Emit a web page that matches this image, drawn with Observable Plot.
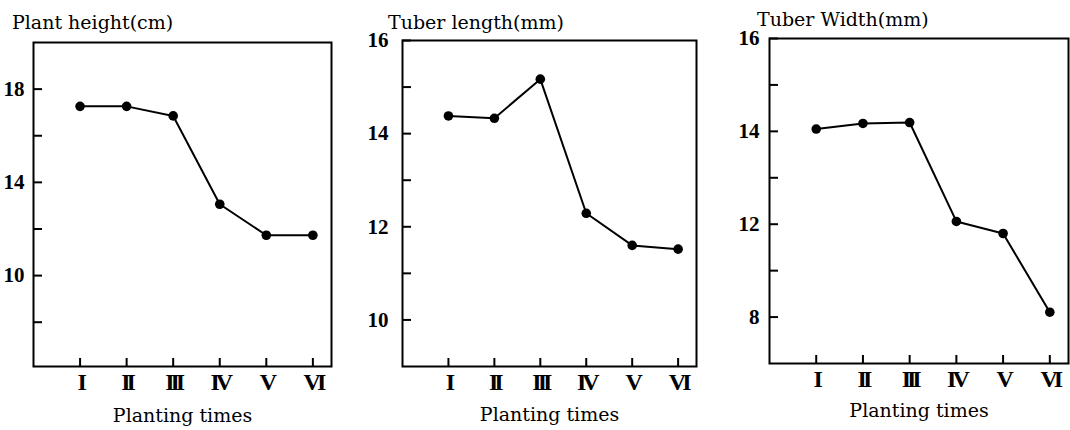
<!DOCTYPE html>
<html>
<head>
<meta charset="utf-8">
<script src="https://cdn.jsdelivr.net/npm/d3@7"></script>
<script src="https://cdn.jsdelivr.net/npm/@observablehq/plot@0.6"></script>
<style>
html, body { margin: 0; padding: 0; background: #fff; }
#wrap { position: relative; width: 1070px; height: 430px; overflow: hidden; background: #fff; }
.panel { position: absolute; top: 0; }
.title { position: absolute; font-family: "DejaVu Serif"; font-size: 19px; line-height: 19px; white-space: nowrap; color: #000; }
.panel svg [aria-label="x-axis tick label"] text { letter-spacing: -4px; }
</style>
</head>
<body>
<div id="wrap"></div>
<script>
// ---- data ----
const categories = ["I", "II", "III", "IV", "V", "VI"];
const plantHeight = [17.26, 17.26, 16.85, 13.06, 11.73, 11.73];
const tuberLength = [14.38, 14.33, 15.17, 12.29, 11.6, 11.52];
const tuberWidth = [14.05, 14.17, 14.19, 12.06, 11.6, 8.21];

const titles = ["Plant height(cm)", "Tuber length(mm)", "Tuber Width(mm)"];
const xLabel = "Planting times";

const p1Ticks = [8, 10, 12, 14, 16, 18];
const p1Labels = [10, 14, 18];
const p2Ticks = [10, 11, 12, 13, 14, 15, 16];
const p2Labels = [10, 12, 14, 16];
const p3Ticks = [8, 10, 12, 13, 14, 15, 16];
const p3Labels = [8, 12, 14, 16];

const p1Domain = [6.1, 20];
const p2Domain = [9, 16];
// the original Tuber Width axis is broken: 12 -> 8 spans the same height as 14 -> 12
const p3Breaks = [6, 8, 12, 16];
const p3Steps = [0, 1, 3, 7];
const xDomain = [0, 6.4];

// ---- build ----
const xTicks = categories.map((_, i) => i + 1);
const wrap = document.getElementById("wrap");
const p3Warp = d3.scaleLinear().domain(p3Breaks).range(p3Steps);

function panel({left, width, mt, mb, ml, mr, values, yTicks, yLabels, yScale, title, titleLeft, titleTop, labelDy, tickPad}) {
  const rows = categories.map((c, i) => ({c, x: i + 1, v: values[i]}));
  const div = document.createElement("div");
  div.className = "panel";
  div.style.left = left + "px";
  const svg = Plot.plot({
    width, height: 430,
    marginTop: mt, marginBottom: mb, marginLeft: ml, marginRight: mr,
    style: {background: "white", color: "black", fontFamily: "Liberation Serif", overflow: "visible"},
    x: {domain: xDomain},
    y: yScale,
    marks: [
      Plot.frame({stroke: "black", strokeWidth: 2}),
      Plot.axisY(yTicks, {
        tickSize: -9, tickPadding: 9 + tickPad, strokeWidth: 2,
        tickFormat: d => yLabels.includes(d) ? String(d) : "",
        fontSize: 21, fontWeight: "bold", fontFamily: "Liberation Serif", label: null
      }),
      Plot.axisX(xTicks, {
        tickSize: -8, tickPadding: 14, strokeWidth: 2,
        tickFormat: d => categories[d - 1],
        fontSize: 24, fontWeight: "bold", fontFamily: "Liberation Serif", label: null
      }),
      Plot.line(rows, {x: "x", y: "v", stroke: "black", strokeWidth: 2}),
      Plot.dot(rows, {x: "x", y: "v", r: 4.8, fill: "black"}),
      Plot.text([xLabel], {text: d => d, frameAnchor: "bottom", dy: labelDy, fontFamily: "DejaVu Serif", fontSize: 19, fill: "black"})
    ]
  });
  div.appendChild(svg);
  wrap.appendChild(div);
  const t = document.createElement("div");
  t.className = "title";
  t.textContent = title;
  t.style.left = titleLeft + "px";
  t.style.top = titleTop + "px";
  wrap.appendChild(t);
}

panel({left: 0, width: 345, mt: 42, mb: 64, ml: 33, mr: 14,
  values: plantHeight, yTicks: p1Ticks, yLabels: p1Labels,
  yScale: {domain: p1Domain}, title: titles[0], titleLeft: 12, titleTop: 13, labelDy: 55, tickPad: 9});

panel({left: 360, width: 350, mt: 40, mb: 64, ml: 42, mr: 14,
  values: tuberLength, yTicks: p2Ticks, yLabels: p2Labels,
  yScale: {domain: p2Domain}, title: titles[1], titleLeft: 388, titleTop: 13, labelDy: 54, tickPad: 14});

panel({left: 715, width: 355, mt: 38, mb: 67, ml: 54, mr: 2,
  values: tuberWidth, yTicks: p3Ticks, yLabels: p3Labels,
  yScale: {type: "linear", transform: d => p3Warp(d), domain: [p3Steps[0], p3Steps[p3Steps.length - 1]]},
  title: titles[2], titleLeft: 757, titleTop: 10, labelDy: 53, tickPad: 10});
</script>
</body>
</html>
